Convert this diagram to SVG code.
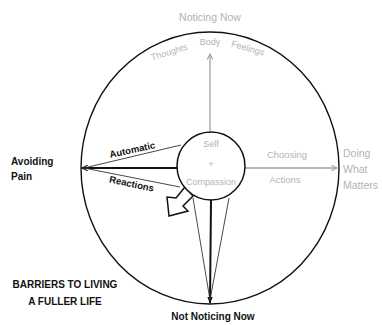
<svg xmlns="http://www.w3.org/2000/svg" width="382" height="325" viewBox="0 0 382 325">
<defs>
<style>
.g{font-family:"Liberation Sans",Arial,sans-serif;fill:#b3b3b3}
.b{font-family:"Liberation Sans",Arial,sans-serif;font-weight:bold;fill:#111}
</style>
<marker id="ah" viewBox="0 0 10 10" refX="9" refY="5" markerWidth="7" markerHeight="7" orient="auto" markerUnits="userSpaceOnUse"><path d="M1,1 L9,5 L1,9" fill="none" stroke="#111" stroke-width="1.5"/></marker>
<marker id="ahf" viewBox="0 0 10 10" refX="9" refY="5" markerWidth="7" markerHeight="7" orient="auto" markerUnits="userSpaceOnUse"><path d="M0,1 L10,5 L0,9 Z" fill="#111"/></marker>
<marker id="ahg" viewBox="0 0 10 10" refX="9" refY="5" markerWidth="7" markerHeight="7" orient="auto" markerUnits="userSpaceOnUse"><path d="M1,1 L9,5 L1,9" fill="none" stroke="#a0a0a0" stroke-width="1.5"/></marker>
</defs>
<rect width="382" height="325" fill="#fff"/>
<g id="outer">
<ellipse cx="210" cy="168" rx="129" ry="136" fill="none" stroke="#111" stroke-width="1.4"/>
</g>
<g id="connectors">
<line x1="210" y1="131" x2="210" y2="54" stroke="#a0a0a0" stroke-width="1.3" marker-end="url(#ahg)"/>
<line x1="244" y1="168" x2="337" y2="168" stroke="#a0a0a0" stroke-width="1.3" marker-end="url(#ahg)"/>
<line x1="177" y1="168" x2="82" y2="168" stroke="#111" stroke-width="2" marker-end="url(#ah)"/>
<line x1="181" y1="145" x2="84" y2="168" stroke="#333" stroke-width="0.9"/>
<line x1="180" y1="187" x2="84" y2="168" stroke="#333" stroke-width="0.9"/>
<line x1="211" y1="200" x2="210" y2="303" stroke="#111" stroke-width="2" marker-end="url(#ahf)"/>
<line x1="193" y1="198" x2="210" y2="300" stroke="#333" stroke-width="0.9"/>
<line x1="229" y1="198" x2="210" y2="300" stroke="#333" stroke-width="0.9"/>
<polygon points="185,187 176,198 167,197 169,216 188,211 183,206 193,196" fill="#fff" stroke="#111" stroke-width="1.5" stroke-linejoin="miter"/>
</g>
<g id="center">
<circle cx="211" cy="166" r="34" fill="#fff" stroke="#111" stroke-width="1.5"/>
<text class="g" x="211" y="147" font-size="9" text-anchor="middle">Self</text>
<text class="g" x="211" y="167" font-size="9" text-anchor="middle">+</text>
<text class="g" x="211" y="185" font-size="9" text-anchor="middle">Compassion</text>
</g>
<g id="noticing-now">
<text class="g" x="210" y="21" font-size="10.5" text-anchor="middle">Noticing Now</text>
<text class="g" x="170" y="55" font-size="9" text-anchor="middle" transform="rotate(-17 170 55)">Thoughts</text>
<text class="g" x="210" y="45" font-size="9" text-anchor="middle">Body</text>
<text class="g" x="247" y="51" font-size="9" text-anchor="middle" transform="rotate(16 247 51)">Feelings</text>
</g>
<g id="choosing-actions">
<text class="g" x="287" y="158" font-size="9.5" text-anchor="middle">Choosing</text>
<text class="g" x="285" y="183" font-size="9.5" text-anchor="middle">Actions</text>
</g>
<g id="doing-what-matters">
<text class="g" x="343" y="157" font-size="10.5">Doing</text>
<text class="g" x="343" y="173" font-size="10.5">What</text>
<text class="g" x="343" y="189" font-size="10.5">Matters</text>
</g>
<g id="avoiding-pain">
<text class="b" x="11" y="165" font-size="10">Avoiding</text>
<text class="b" x="11" y="180" font-size="10">Pain</text>
</g>
<g id="automatic">
<text class="b" x="133" y="153" font-size="9.5" text-anchor="middle" transform="rotate(-12 133 153)">Automatic</text>
</g>
<g id="reactions">
<text class="b" x="131" y="187" font-size="9.5" text-anchor="middle" transform="rotate(12 131 187)">Reactions</text>
</g>
<g id="barriers">
<text class="b" x="65" y="288" font-size="10" text-anchor="middle">BARRIERS TO LIVING</text>
<text class="b" x="65" y="305" font-size="10" text-anchor="middle">A FULLER LIFE</text>
</g>
<g id="not-noticing-now">
<text class="b" x="213" y="320" font-size="10" text-anchor="middle">Not Noticing Now</text>
</g>
</svg>
